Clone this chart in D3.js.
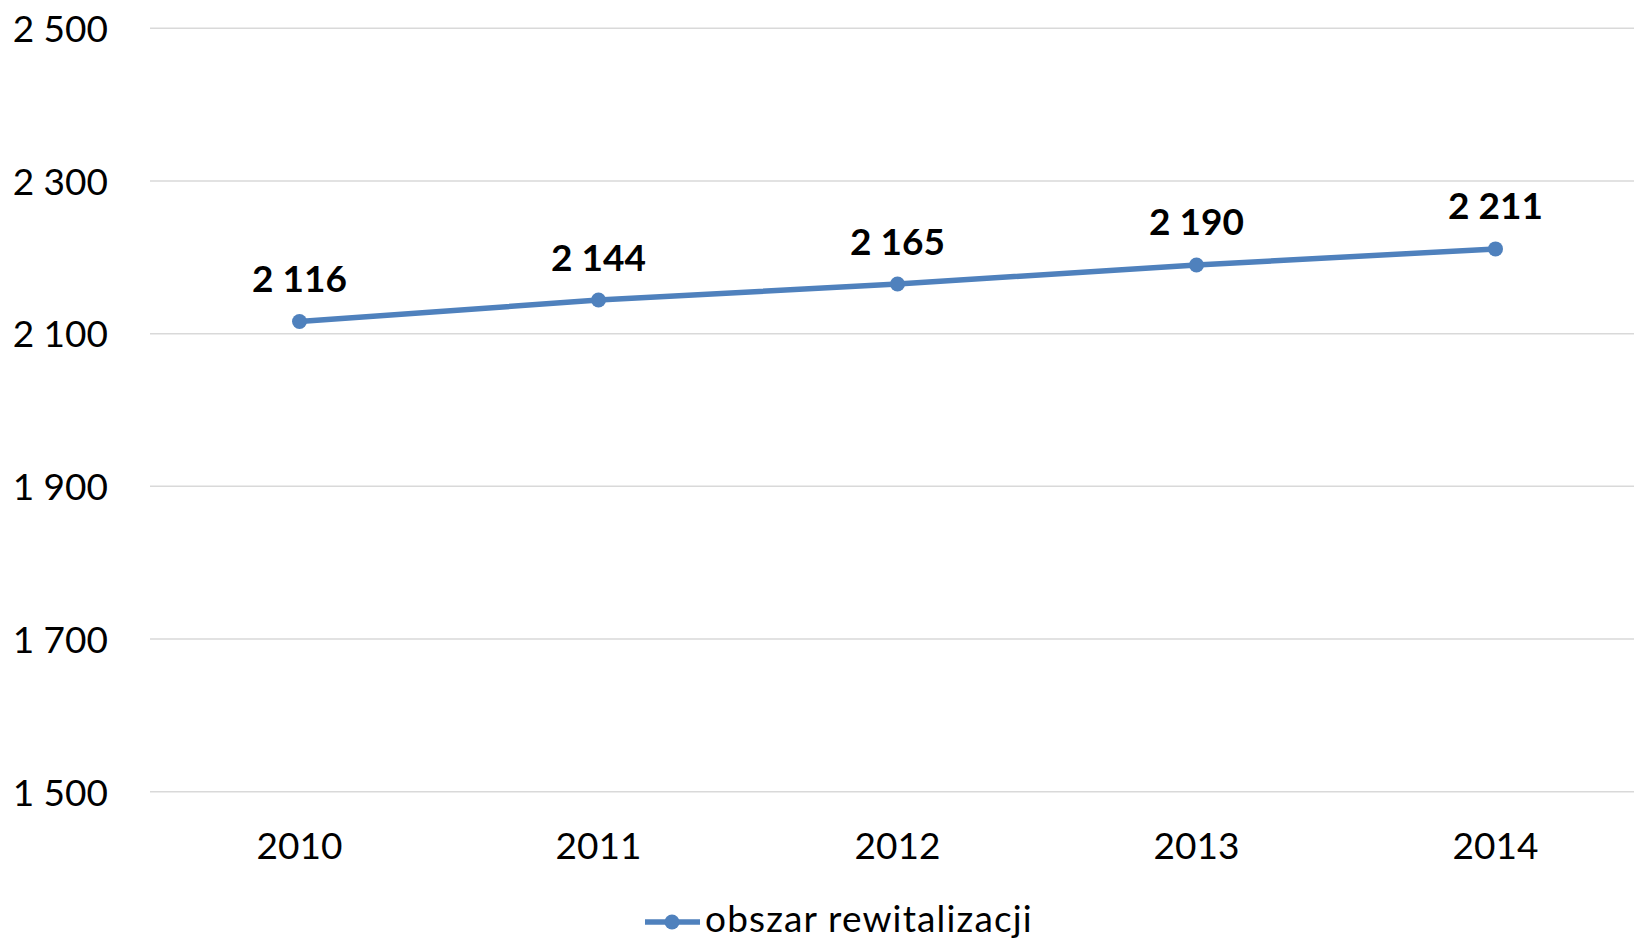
<!DOCTYPE html>
<html><head><meta charset="utf-8">
<script src="https://cdn.jsdelivr.net/npm/d3@7"></script>
<style>
html,body{margin:0;padding:0;background:#fff;}
svg text{font-family:Lato,"Open Sans",sans-serif;fill:#000;}
</style></head>
<body><svg id="c" width="1634" height="941"></svg>
<script>
const categories = ["2010","2011","2012","2013","2014"];
const values = [2116, 2144, 2165, 2190, 2211];
const yTicks = [1500, 1700, 1900, 2100, 2300, 2500];
const seriesName = "obszar rewitalizacji";

const svg = d3.select("#c");
const pLeft = 150, pRight = 1645, pTop = 28.3, pBottom = 791.7;
const x = d3.scaleBand().domain(categories).range([pLeft, pRight]);
const y = d3.scaleLinear().domain([1500, 2500]).range([pBottom, pTop]);
const fmt = v => d3.format(",")(v).replace(/,/g, " ");
const color = "#4f81bd";

// grid
svg.append("g").selectAll("line").data(yTicks).join("line")
  .attr("x1", pLeft).attr("x2", 1634)
  .attr("y1", d => y(d)).attr("y2", d => y(d))
  .attr("stroke", "#d9d9d9").attr("stroke-width", 1.5);

// y axis labels
const yAxis = d3.axisLeft(y).tickValues(yTicks).tickFormat(fmt).tickSize(0).tickPadding(0);
const gy = svg.append("g").attr("transform", "translate(108,0)").call(yAxis);
gy.select(".domain").remove();
gy.selectAll("text").attr("font-size", 37).attr("dy", "0.36em")
  .style("font-family", "Lato").attr("fill", "#000");

// x axis labels
const xAxis = d3.axisBottom(x).tickSize(0).tickPadding(0);
const gx = svg.append("g").attr("transform", "translate(0,859)").call(xAxis);
gx.select(".domain").remove();
gx.selectAll("text").attr("font-size", 37).attr("dy", 0)
  .style("font-family", "Lato").attr("fill", "#000");

// line
const cx = d => x(d) + x.bandwidth() / 2;
const line = d3.line().x((d, i) => cx(categories[i])).y(d => y(d));
svg.append("path").datum(values).attr("d", line)
  .attr("fill", "none").attr("stroke", color).attr("stroke-width", 5.5)
  .attr("stroke-linejoin", "round");
svg.append("g").selectAll("circle").data(values).join("circle")
  .attr("cx", (d, i) => cx(categories[i])).attr("cy", d => y(d))
  .attr("r", 7.5).attr("fill", color);

// data labels
svg.append("g").selectAll("text").data(values).join("text")
  .attr("x", (d, i) => cx(categories[i])).attr("y", d => y(d) - 29.5)
  .attr("text-anchor", "middle").attr("font-size", 37).attr("font-weight", "bold")
  .text(fmt);

// legend
const lg = svg.append("g");
lg.append("line").attr("x1", 645).attr("x2", 700).attr("y1", 922).attr("y2", 922)
  .attr("stroke", color).attr("stroke-width", 5.5);
lg.append("circle").attr("cx", 672).attr("cy", 922).attr("r", 7.5).attr("fill", color);
lg.append("text").attr("x", 705).attr("y", 932).attr("font-size", 37)
  .attr("letter-spacing", "1.15px").text(seriesName);
</script></body></html>
